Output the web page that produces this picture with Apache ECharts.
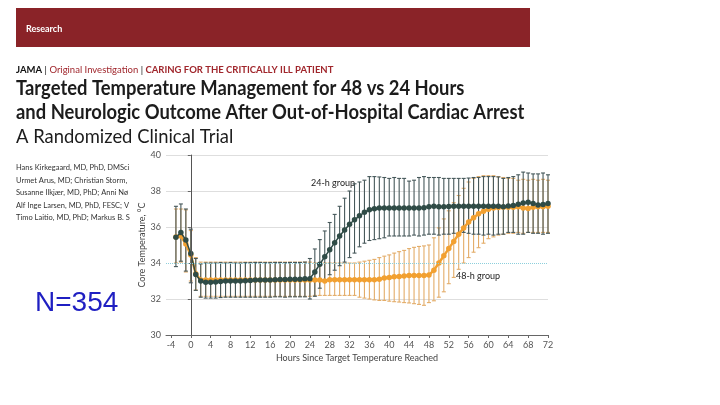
<!DOCTYPE html>
<html><head><meta charset="utf-8">
<script src="https://cdn.jsdelivr.net/npm/echarts@6/dist/echarts.min.js"></script>
<style>html,body{margin:0;padding:0;background:#fff}#c{width:720px;height:405px}</style>
</head><body><div id="c"></div>
<script>
// ---- data ----
const hours = [-3,-2,-1,0,1,2,3,4,5,6,7,8,9,10,11,12,13,14,15,16,17,18,19,20,21,22,23,24,25,26,27,28,29,30,31,32,33,34,35,36,37,38,39,40,41,42,43,44,45,46,47,48,49,50,51,52,53,54,55,56,57,58,59,60,61,62,63,64,65,66,67,68,69,70,71,72];
const group24Mean = [35.43,35.69,35.28,34.53,33.36,33.0,32.93,32.93,32.95,32.97,33.0,33.0,33.0,33.0,33.02,33.03,33.05,33.05,33.05,33.05,33.07,33.08,33.08,33.1,33.1,33.1,33.12,33.13,33.5,33.93,34.35,34.73,35.13,35.5,35.83,36.15,36.4,36.62,36.82,36.96,37.02,37.05,37.05,37.05,37.05,37.05,37.05,37.05,37.05,37.05,37.07,37.12,37.15,37.13,37.13,37.14,37.15,37.15,37.15,37.15,37.15,37.15,37.15,37.15,37.15,37.15,37.12,37.16,37.2,37.26,37.33,37.37,37.3,37.22,37.25,37.3];
const group24Upper = [37.15,37.28,37.0,35.88,34.25,33.95,34.0,34.0,34.0,34.02,34.0,34.02,34.0,34.0,34.02,34.02,34.03,34.03,34.02,34.02,34.03,34.03,34.02,34.03,34.03,34.03,34.05,34.25,34.78,35.3,35.78,36.25,36.7,37.15,37.6,38.0,38.4,38.5,38.6,38.8,38.8,38.78,38.75,38.7,38.75,38.7,38.7,38.55,38.6,38.75,38.8,38.75,38.75,38.75,38.7,38.7,38.7,38.7,38.7,38.72,38.75,38.75,38.8,38.8,38.8,38.78,38.7,38.75,38.8,38.9,39.05,39.0,38.95,38.95,39.0,38.9];
const group24Lower = [33.8,34.1,33.55,32.9,32.48,32.1,32.05,32.05,32.05,32.08,32.1,32.1,32.1,32.1,32.1,32.1,32.1,32.1,32.1,32.1,32.12,32.12,32.1,32.12,32.12,32.12,32.12,32.0,32.15,32.6,33.0,33.35,33.6,33.85,34.05,34.3,34.55,34.9,35.1,35.25,35.3,35.35,35.4,35.5,35.5,35.5,35.5,35.5,35.55,35.5,35.55,35.6,35.6,35.55,35.6,35.6,35.65,35.65,35.7,35.65,35.6,35.6,35.55,35.6,35.55,35.6,35.6,35.7,35.7,35.6,35.6,35.7,35.65,35.65,35.6,35.65];
const group48Mean = [35.45,35.5,35.05,34.45,33.4,33.05,33.05,33.05,33.05,33.05,33.05,33.05,33.05,33.05,33.05,33.05,33.05,33.05,33.05,33.05,33.05,33.05,33.05,33.05,33.05,33.05,33.05,33.05,33.05,33.05,33.0,33.07,33.07,33.07,33.07,33.07,33.07,33.07,33.07,33.07,33.07,33.1,33.17,33.2,33.23,33.25,33.28,33.3,33.3,33.3,33.3,33.33,33.6,34.0,34.4,34.8,35.2,35.6,35.95,36.28,36.52,36.73,36.88,36.98,37.05,37.08,37.1,37.1,37.1,37.12,37.05,37.03,37.1,37.12,37.12,37.15];
const group48Upper = [37.0,37.0,36.95,35.8,34.3,34.05,34.05,34.05,34.05,34.05,34.05,34.05,34.05,34.05,34.05,34.05,34.05,34.05,34.05,34.05,34.05,34.05,34.05,34.05,34.05,34.05,34.05,34.05,34.0,34.0,34.0,34.0,34.0,34.0,34.0,34.0,34.0,34.05,34.1,34.15,34.2,34.3,34.38,34.45,34.55,34.63,34.7,34.8,34.87,34.92,34.95,35.0,35.4,35.95,36.45,36.9,37.35,37.75,38.15,38.5,38.7,38.8,38.85,38.85,38.85,38.8,38.75,38.7,38.7,38.6,38.65,38.6,38.65,38.6,38.65,38.6];
const group48Lower = [34.0,34.05,33.5,33.0,32.5,32.15,32.15,32.15,32.15,32.15,32.15,32.15,32.15,32.15,32.15,32.15,32.15,32.15,32.15,32.15,32.15,32.15,32.15,32.15,32.15,32.15,32.15,32.15,32.2,32.2,32.2,32.2,32.2,32.2,32.2,32.2,32.2,32.1,32.05,32.0,31.95,31.92,31.92,31.88,31.85,31.83,31.8,31.78,31.74,31.7,31.65,31.8,31.9,32.1,32.4,32.85,33.2,33.65,34.0,34.3,34.6,34.85,35.1,35.35,35.45,35.55,35.6,35.65,35.65,35.7,35.65,35.7,35.7,35.7,35.7,35.7];
const xTickValues = [-4,0,4,8,12,16,20,24,28,32,36,40,44,48,52,56,60,64,68,72];
const seriesNames = ['24-h group','48-h group'];
const authorLines = [
  'Hans Kirkegaard, MD, PhD, DMSci.; Eldar Søreide, MD, PhD',
  'Urmet Arus, MD; Christian Storm, MD, PhD',
  'Susanne Ilkjær, MD, PhD; Anni Nørgaard Jeppesen, MD, PhD',
  'Alf Inge Larsen, MD, PhD, FESC; Valdo Toome, MD',
  'Timo Laitio, MD, PhD; Markus B. Skrifvars, MD, PhD'
];

// ---- style ----
const GREEN = '#2f4b46', GREEN_BAR = '#46585a';
const ORANGE = '#f2a030', ORANGE_BAR = '#e3ac68';
const FONT = 'Lato';

function errorBars(upper, lower, color, z) {
  return {
    type: 'custom', z: z, silent: true,
    data: hours.map((h, i) => [h, lower[i], upper[i]]),
    encode: { x: 0, y: [1, 2] },
    renderItem: function (params, api) {
      const x = api.value(0);
      const lo = api.coord([x, api.value(1)]);
      const hi = api.coord([x, api.value(2)]);
      const st = { stroke: color, lineWidth: 1.1 };
      return { type: 'group', children: [
        { type: 'line', shape: { x1: lo[0], y1: lo[1], x2: hi[0], y2: hi[1] }, style: st },
        { type: 'line', shape: { x1: lo[0] - 2, y1: lo[1], x2: lo[0] + 2, y2: lo[1] }, style: st },
        { type: 'line', shape: { x1: hi[0] - 2, y1: hi[1], x2: hi[0] + 2, y2: hi[1] }, style: st }
      ]};
    }
  };
}
function meanLine(name, mean, color, width, z) {
  return {
    type: 'line', name: name, z: z,
    data: hours.map((h, i) => [h, mean[i]]),
    symbol: 'circle', symbolSize: 5.5, showSymbol: true,
    itemStyle: { color: color }, lineStyle: { color: color, width: width },
    animation: false
  };
}

const chart = echarts.init(document.getElementById('c'), null, { renderer: 'canvas' });
const authorGraphics = authorLines.map((t, i) => ({
  type: 'text', left: 16, top: 164 + i * 12.5,
  style: { text: t, fill: '#333', font: '7.5px ' + FONT, width: 116, overflow: 'truncate', ellipsis: '' }
}));
function titleText(t, y, weight) {
  return { type: 'text', x: 16, y: y, scaleX: 0.92,
    style: { text: t, fill: '#1c1c1c', font: weight + ' 20px ' + FONT, textVerticalAlign: 'middle' } };
}

chart.setOption({
  animation: false,
  textStyle: { fontFamily: FONT },
  grid: { left: 166, right: 172, top: 155, bottom: 70 },
  xAxis: {
    type: 'value', min: -5, max: 72,
    name: 'Hours Since Target Temperature Reached', nameLocation: 'middle', nameGap: 19,
    nameTextStyle: { fontSize: 9, color: '#444', fontFamily: FONT },
    axisLine: { lineStyle: { color: '#666' } },
    axisTick: { customValues: xTickValues, length: 3, lineStyle: { color: '#666' } },
    axisLabel: { customValues: xTickValues, fontSize: 9, color: '#555', margin: 6, fontFamily: FONT },
    splitLine: { show: false }
  },
  yAxis: {
    type: 'value', min: 30, max: 40, interval: 2,
    name: 'Core Temperature, °C', nameLocation: 'middle', nameGap: 19, nameRotate: 90,
    nameMoveOverlap: false,
    nameTextStyle: { fontSize: 9, color: '#444', fontFamily: FONT },
    axisLine: { show: true, lineStyle: { color: '#666' } },
    axisTick: { show: true, length: 3, lineStyle: { color: '#666' } },
    axisLabel: { fontSize: 9, color: '#555', margin: 5, fontFamily: FONT },
    splitLine: { show: true, lineStyle: { color: ['rgba(0,0,0,0)', '#dedede', 'rgba(0,0,0,0)', '#dedede', '#dedede', '#dedede'], width: 1 } }
  },
  series: [
    errorBars(group48Upper, group48Lower, ORANGE_BAR, 1),
    errorBars(group24Upper, group24Lower, GREEN_BAR, 2),
    Object.assign(meanLine(seriesNames[1], group48Mean, ORANGE, 2.5, 3), {
      markLine: { silent: true, symbol: 'none', label: { show: false },
        data: [
          { yAxis: 34, lineStyle: { color: '#8ccfdc', type: 'dotted', width: 1 } },
          { xAxis: 0, lineStyle: { color: '#555', type: 'solid', width: 1 } }
        ] }
    }),
    meanLine(seriesNames[0], group24Mean, GREEN, 1.5, 4)
  ],
  graphic: [
    { type: 'rect', shape: { x: 16, y: 8, width: 514, height: 39 }, style: { fill: '#8a2328' } },
    { type: 'text', x: 26, y: 29, style: { text: 'Research', fill: '#fff', font: 'bold 9px ' + FONT, textVerticalAlign: 'middle' } },
    { type: 'text', x: 16, y: 70, scaleX: 0.95, style: {
        text: '{b|JAMA}{s| | }{r|Original Investigation}{s| | }{rb|CARING FOR THE CRITICALLY ILL PATIENT}',
        textVerticalAlign: 'middle',
        rich: {
          b: { font: 'bold 10px ' + FONT, fill: '#111' },
          s: { font: '10px ' + FONT, fill: '#111' },
          r: { font: '10px ' + FONT, fill: '#a0262c' },
          rb: { font: 'bold 10px ' + FONT, fill: '#a0262c' }
        } } },
    titleText('Targeted Temperature Management for 48 vs 24 Hours', 89, 'bold'),
    titleText('and Neurologic Outcome After Out-of-Hospital Cardiac Arrest', 113, 'bold'),
    titleText('A Randomized Clinical Trial', 137, 'normal'),
    ...authorGraphics,
    { type: 'text', x: 35, y: 303, style: { text: 'N=354', fill: '#1f1fc2', font: '28px "Liberation Sans"', textVerticalAlign: 'middle' } },
    { type: 'text', x: 311, y: 183, style: { text: seriesNames[0], fill: '#222', font: '9px ' + FONT, textVerticalAlign: 'middle' } },
    { type: 'text', x: 456, y: 276, style: { text: seriesNames[1], fill: '#222', font: '9px ' + FONT, textVerticalAlign: 'middle' } }
  ]
});
</script></body></html>
